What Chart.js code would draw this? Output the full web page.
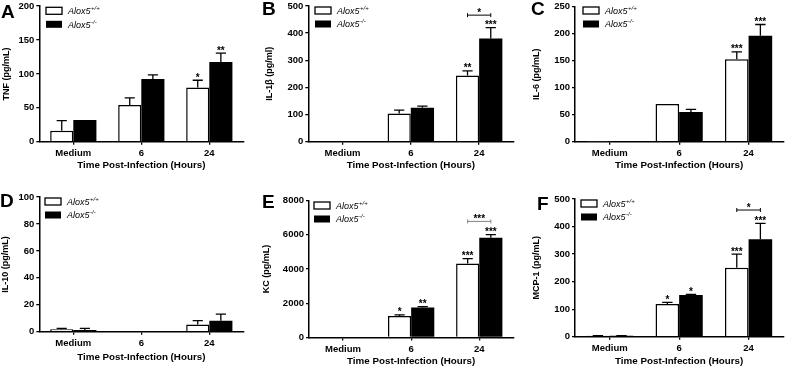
<!DOCTYPE html>
<html>
<head>
<meta charset="utf-8">
<script src="https://cdn.jsdelivr.net/npm/chart.js@4.4.1/dist/chart.umd.min.js"></script>
<style>
    body { margin: 0; background: #fff; width: 786px; height: 369px; position: relative; overflow: hidden; }
    canvas { position: absolute; }
</style>
</head>
<body>
<canvas id="chartA" width="262" height="185" style="left:0px;top:0px"></canvas>
<canvas id="chartB" width="262" height="185" style="left:262px;top:0px"></canvas>
<canvas id="chartC" width="262" height="185" style="left:524px;top:0px"></canvas>
<canvas id="chartD" width="262" height="184" style="left:0px;top:185px"></canvas>
<canvas id="chartE" width="262" height="184" style="left:262px;top:185px"></canvas>
<canvas id="chartF" width="262" height="184" style="left:524px;top:185px"></canvas>
<script>
// categories and series
const categories = ["Medium", "6", "24"];
const xTitle = "Time Post-Infection (Hours)";

// A - TNF
const tnfWT = [16, 54, 80];
const tnfWTErr = [15, 10.5, 10.6];
const tnfKO = [32, 92.6, 117.7];
const tnfKOErr = [0, 6, 12.8];
const tnfWTStars = ["", "", "*"];
const tnfKOStars = ["", "", "**"];

// B - IL-1b
const il1bWT = [0, 104, 244];
const il1bWTErr = [0, 12.6, 17];
const il1bKO = [0, 125, 380];
const il1bKOErr = [0, 6, 40];
const il1bWTStars = ["", "", "**"];
const il1bKOStars = ["", "", "***"];

// C - IL-6
const il6WT = [0.5, 70, 152.5];
const il6WTErr = [0, 0, 14];
const il6KO = [1, 55, 196];
const il6KOErr = [0, 5, 21];
const il6WTStars = ["", "", "***"];
const il6KOStars = ["", "", "***"];

// D - IL-10
const il10WT = [1.8, 0, 5.4];
const il10WTErr = [0.7, 0, 2.8];
const il10KO = [1.2, 0, 8.2];
const il10KOErr = [1.3, 0, 4.9];

// E - KC
const kcWT = [0, 1260, 4320];
const kcWTErr = [0, 60, 290];
const kcKO = [0, 1745, 5830];
const kcKOErr = [0, 55, 175];
const kcWTStars = ["", "*", "***"];
const kcKOStars = ["", "**", "***"];

// F - MCP-1
const mcpWT = [3, 118.6, 250.6];
const mcpWTErr = [0.5, 6, 49.5];
const mcpKO = [3, 151, 353.5];
const mcpKOErr = [0.5, 2.7, 58];
const mcpWTStars = ["", "*", "***"];
const mcpKOStars = ["", "*", "***"];

Chart.defaults.font.family = "'Liberation Sans', Arial, sans-serif";
Chart.defaults.font.weight = "bold";
Chart.defaults.color = "#000";

const errorBars = {
    id: "errorBars",
    afterDatasetsDraw(chart) {
        const ctx = chart.ctx;
        const y = chart.scales.y;
        chart.data.datasets.forEach((ds, i) => {
            const meta = chart.getDatasetMeta(i);
            meta.data.forEach((bar, j) => {
                const err = ds.errors ? ds.errors[j] : 0;
                let capY = y.getPixelForValue(ds.data[j]);
                ctx.save();
                if (err) {
                    capY = y.getPixelForValue(ds.data[j] + err);
                    ctx.strokeStyle = "#000";
                    ctx.lineWidth = 1.3;
                    ctx.beginPath();
                    ctx.moveTo(bar.x, bar.y);
                    ctx.lineTo(bar.x, capY);
                    ctx.moveTo(bar.x - bar.width * 0.22, capY);
                    ctx.lineTo(bar.x + bar.width * 0.22, capY);
                    ctx.stroke();
                }
                const star = ds.stars ? ds.stars[j] : "";
                if (star) {
                    ctx.font = "bold 10px 'Liberation Sans'";
                    ctx.fillStyle = "#000";
                    ctx.textAlign = "center";
                    ctx.textBaseline = "alphabetic";
                    ctx.fillText(star, bar.x, capY + 0.5);
                }
                ctx.restore();
            });
        });
    },
};

const extras = {
    id: "extras",
    afterDraw(chart, args, opts) {
        const ctx = chart.ctx;
        ctx.save();
        // panel letter
        ctx.font = "bold 19px 'Liberation Sans'";
        ctx.fillStyle = "#000";
        ctx.textAlign = "left";
        ctx.textBaseline = "alphabetic";
        ctx.fillText(opts.letter, opts.letterPos[0], opts.letterPos[1]);

        // legend
        const lx = opts.legendPos[0], ly = opts.legendPos[1];
        ctx.fillStyle = "#fff";
        ctx.fillRect(lx, ly, 16, 7);
        ctx.strokeStyle = "#000";
        ctx.lineWidth = 1.3;
        ctx.strokeRect(lx, ly, 16, 7);
        ctx.fillStyle = "#000";
        ctx.fillRect(lx, ly + 13.5, 16, 7);
        const sups = ["+/+", "-/-"];
        sups.forEach((s, k) => {
            const ty = ly + 3.5 + k * 13.5 + 3.3;
            ctx.font = "italic 9px 'Liberation Sans'";
            ctx.fillText("Alox5", lx + 22, ty);
            const w = ctx.measureText("Alox5").width;
            ctx.font = "italic 6px 'Liberation Sans'";
            ctx.fillText(s, lx + 22 + w + 0.5, ty - 4);
        });

        // significance bracket
        if (opts.bracket) {
            const b = opts.bracket;
            const x0 = chart.getDatasetMeta(0).data[b.index].x;
            const x1 = chart.getDatasetMeta(1).data[b.index].x;
            const by = chart.scales.y.getPixelForValue(b.value);
            ctx.strokeStyle = b.color;
            ctx.lineWidth = 1;
            ctx.beginPath();
            ctx.moveTo(x0, by); ctx.lineTo(x1, by);
            ctx.moveTo(x0, by - 2); ctx.lineTo(x0, by + 2);
            ctx.moveTo(x1, by - 2); ctx.lineTo(x1, by + 2);
            ctx.stroke();
            ctx.font = "bold 10px 'Liberation Sans'";
            ctx.fillStyle = "#000";
            ctx.textAlign = "center";
            ctx.fillText(b.label, (x0 + x1) / 2, by + 0.5);
        }
        ctx.restore();
    },
};

function makePanel(id, p) {
    const canvas = document.getElementById(id);
    const W = canvas.width, H = canvas.height;
    new Chart(canvas, {
        type: "bar",
        data: {
            labels: categories,
            datasets: [
                {
                    label: "Alox5+/+",
                    data: p.wt,
                    errors: p.wtErr,
                    stars: p.wtStars,
                    backgroundColor: "#fff",
                    borderColor: "#000",
                    borderWidth: 1.5,
                    categoryPercentage: 0.68,
                    barPercentage: 1,
                },
                {
                    label: "Alox5-/-",
                    data: p.ko,
                    errors: p.koErr,
                    stars: p.koStars,
                    backgroundColor: "#000",
                    borderColor: "#000",
                    borderWidth: 0,
                    categoryPercentage: 0.68,
                    barPercentage: 1,
                },
            ],
        },
        options: {
            responsive: false,
            animation: false,
            layout: {
                padding: { top: p.top, right: W - p.right, left: 0, bottom: 0 },
            },
            plugins: {
                legend: { display: false },
                tooltip: { enabled: false },
                extras: {
                    letter: p.letter,
                    letterPos: p.letterPos,
                    legendPos: p.legendPos,
                    bracket: p.bracket,
                },
            },
            scales: {
                x: {
                    offset: true,
                    grid: { offset: false, drawOnChartArea: false, tickLength: 3, color: "#000", lineWidth: 1.3 },
                    border: { color: "#000", width: 1.5 },
                    ticks: { padding: 3, font: { size: 9.5, weight: "bold" }, maxRotation: 0 },
                    title: {
                        display: true,
                        text: xTitle,
                        font: { size: 9.8, weight: "bold" },
                        padding: { top: 0, bottom: H - p.xTitleY - 5.9 },
                    },
                    afterFit(s) {
                        s.height = H - p.bottom;
                        s.paddingLeft = 0;
                        s.paddingRight = 0;
                    },
                },
                y: {
                    min: 0,
                    max: p.max,
                    grid: { drawOnChartArea: false, tickLength: 3, color: "#000", lineWidth: 1.3 },
                    border: { color: "#000", width: 1.5 },
                    ticks: {
                        stepSize: p.step,
                        padding: 2,
                        font: { size: 9.5, weight: "bold" },
                        callback: (v) => String(v),
                    },
                    title: {
                        display: true,
                        text: p.yTitle,
                        font: { size: 9, weight: "bold" },
                        padding: { top: p.yTitleX - 5.4, bottom: 0 },
                    },
                    afterFit(s) {
                        s.width = p.left;
                        s.paddingTop = 0;
                        s.paddingBottom = 0;
                    },
                },
            },
        },
        plugins: [errorBars, extras],
    });
}

makePanel("chartA", {
    wt: tnfWT, wtErr: tnfWTErr, ko: tnfKO, koErr: tnfKOErr, wtStars: tnfWTStars, koStars: tnfKOStars,
    max: 200, step: 50, yTitle: "TNF (pg/mL)",
    left: 39.3, right: 243.3, top: 6.1, bottom: 141.7, yTitleX: 7, xTitleY: 165.7,
    letter: "A", letterPos: [1, 18], legendPos: [46, 7.3],
});
makePanel("chartB", {
    wt: il1bWT, wtErr: il1bWTErr, ko: il1bKO, koErr: il1bKOErr, wtStars: il1bWTStars, koStars: il1bKOStars,
    max: 500, step: 100, yTitle: "IL-1β (pg/ml)",
    left: 46.3, right: 251.3, top: 5.9, bottom: 141.7, yTitleX: 7.5, xTitleY: 165.7,
    letter: "B", letterPos: [0, 15], legendPos: [53, 7],
    bracket: { index: 2, value: 466, label: "*", color: "#000" },
});
makePanel("chartC", {
    wt: il6WT, wtErr: il6WTErr, ko: il6KO, koErr: il6KOErr, wtStars: il6WTStars, koStars: il6KOStars,
    max: 250, step: 50, yTitle: "IL-6 (pg/mL)",
    left: 51, right: 259.3, top: 6.7, bottom: 141.7, yTitleX: 13, xTitleY: 165.7,
    letter: "C", letterPos: [7, 15], legendPos: [59, 7],
});
makePanel("chartD", {
    wt: il10WT, wtErr: il10WTErr, ko: il10KO, koErr: il10KOErr,
    max: 100, step: 20, yTitle: "IL-10 (pg/mL)",
    left: 39.3, right: 243.3, top: 12.1, bottom: 146.7, yTitleX: 6, xTitleY: 172.7,
    letter: "D", letterPos: [0, 21.7], legendPos: [45, 13],
});
makePanel("chartE", {
    wt: kcWT, wtErr: kcWTErr, ko: kcKO, koErr: kcKOErr, wtStars: kcWTStars, koStars: kcKOStars,
    max: 8000, step: 2000, yTitle: "KC (pg/mL)",
    left: 47, right: 251.3, top: 15.5, bottom: 152.5, yTitleX: 4.5, xTitleY: 176,
    letter: "E", letterPos: [0, 23.3], legendPos: [52, 17],
    bracket: { index: 2, value: 6780, label: "***", color: "#808080" },
});
makePanel("chartF", {
    wt: mcpWT, wtErr: mcpWTErr, ko: mcpKO, koErr: mcpKOErr, wtStars: mcpWTStars, koStars: mcpKOStars,
    max: 500, step: 100, yTitle: "MCP-1 (pg/mL)",
    left: 51, right: 259.3, top: 14, bottom: 151.7, yTitleX: 12.5, xTitleY: 176,
    letter: "F", letterPos: [13, 25], legendPos: [57, 15],
    bracket: { index: 2, value: 460, label: "*", color: "#000" },
});
</script>
</body>
</html>
